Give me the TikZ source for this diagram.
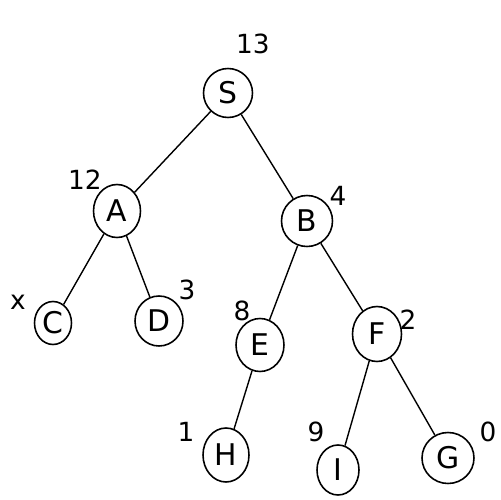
\documentclass[tikz,border=0pt]{standalone}
\usepackage{fontspec}
\setmainfont{DejaVu Sans}
\usetikzlibrary{shapes.geometric}
\begin{document}
\begin{tikzpicture}[x=0.02cm,y=-0.02cm,
  vertex/.style={draw,ellipse,line width=0.9pt,inner sep=0pt,font=\fontsize{17}{17}\selectfont},
  cost/.style={font=\fontsize{15}{15}\selectfont},
  edge/.style={line width=0.8pt}]
\useasboundingbox (0,0) rectangle (500,500);
% tree nodes
\node[vertex,minimum width=0.98cm,minimum height=0.98cm] (S) at (228,93) {S};
\node[vertex,minimum width=0.94cm,minimum height=1.06cm] (A) at (117,211) {A};
\node[vertex,minimum width=1.02cm,minimum height=1.02cm] (B) at (307,221) {B};
\node[vertex,minimum width=0.74cm,minimum height=0.86cm] (C) at (53,323) {C};
\node[vertex,minimum width=0.96cm,minimum height=1.0cm] (D) at (159,321) {D};
\node[vertex,minimum width=0.96cm,minimum height=1.06cm] (E) at (260,345) {E};
\node[vertex,minimum width=0.98cm,minimum height=1.1cm] (F) at (377,334) {F};
\node[vertex,minimum width=0.92cm,minimum height=1.08cm] (H) at (226,455) {H};
\node[vertex,minimum width=0.84cm,minimum height=1.0cm] (I) at (338,470) {I};
\node[vertex,minimum width=1.04cm,minimum height=1.02cm] (G) at (448,458) {G};
% edges
\draw[edge] (S) -- (A);
\draw[edge] (S) -- (B);
\draw[edge] (A) -- (C);
\draw[edge] (A) -- (D);
\draw[edge] (B) -- (E);
\draw[edge] (B) -- (F);
\draw[edge] (E) -- (H);
\draw[edge] (F) -- (I);
\draw[edge] (F) -- (G);
% heuristic values
\node[cost] (hS) at (253,44) {13};
\node[cost] (hA) at (85,180) {12};
\node[cost] (hB) at (338,196) {4};
\node[cost] (hC) at (18,302) {x};
\node[cost] (hD) at (187,290) {3};
\node[cost] (hE) at (242,311) {8};
\node[cost] (hF) at (408,320) {2};
\node[cost] (hH) at (186,432) {1};
\node[cost] (hI) at (316,432) {9};
\node[cost] (hG) at (488,432) {0};
\end{tikzpicture}
\end{document}
